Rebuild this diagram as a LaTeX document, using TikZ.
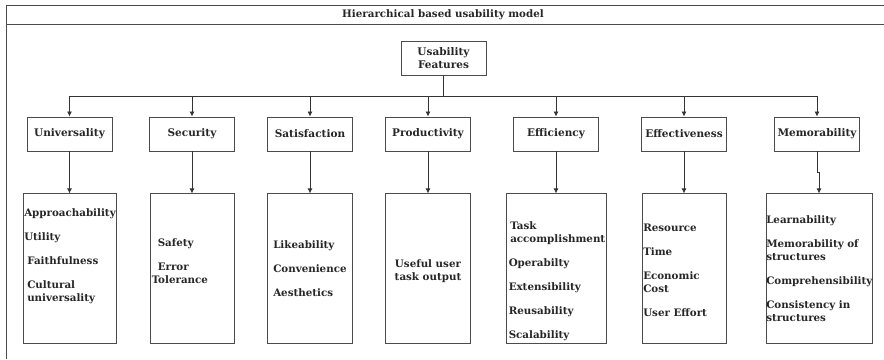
\documentclass[tikz,border=0pt]{standalone}
\usepackage{fontspec}
\setmainfont{DejaVu Serif}
\usepackage{xcolor}
\usetikzlibrary{positioning,arrows.meta}

\begin{document}
\begin{tikzpicture}[
    x=1pt, y=-1pt,
    node distance=42pt,
    every node/.style={font=\bfseries\fontsize{10.5}{12.5}\selectfont, text=black!85},
    frame/.style={draw=black!70, line width=0.9pt},
    nd/.style={rectangle, draw=black!70, line width=0.9pt,
               minimum width=85pt, minimum height=34pt,
               inner sep=1pt, align=center},
    listbox/.style={rectangle, draw=black!70, line width=0.9pt,
                    minimum height=150pt, inner sep=0pt},
    items/.style={align=left, inner sep=0pt, anchor=north west,
                  font=\bfseries\fontsize{10.3}{13}\selectfont},
    arr/.style={-{Latex[length=5pt,width=5pt]}, draw=black!80, line width=0.8pt},
    ln/.style={draw=black!80, line width=0.8pt}
]
\useasboundingbox (0,0) rectangle (884,359);

% frame and heading
\draw[frame] (6,359) -- (6,5) -- (884,5);
\draw[frame] (6,24) -- (884,24);
\node[font=\bfseries\fontsize{10.3}{13}\selectfont] (title) at (443,14.5) {Hierarchical based usability model};

% root
\node[nd] (root) at (443.5,58) {Usability\\Features};
\coordinate (bus) at (443.5,96);

% features
\node[nd] (univ)   at (69.5,134)  {Universality};
\node[nd] (secu)   at (192,134)   {Security};
\node[nd] (satis)  at (310,134)   {Satisfaction};
\node[nd] (prod)   at (428,134)   {Productivity};
\node[nd] (effic)  at (556,134)   {Efficiency};
\node[nd] (effect) at (684,134)   {Effectiveness};
\node[nd] (memo)   at (817,134)   {Memorability};

% sub-feature boxes
\node[listbox, minimum width=93pt, below=of univ]   (univlist)   {};
\node[listbox, minimum width=84pt, below=of secu]   (seculist)   {};
\node[listbox, minimum width=85pt, below=of satis]  (satislist)  {};
\node[listbox, minimum width=85pt, below=of prod]   (prodlist)   {};
\node[listbox, minimum width=100pt, below=of effic] (efficlist)  {};
\node[listbox, minimum width=84pt, below=of effect] (effectlist) {};
\node[listbox, minimum width=106pt, below=of memo, xshift=2pt] (memolist) {};

% sub-feature texts
\node[items] (univtxt) at ([xshift=1.5pt,yshift=-15pt]univlist.north west)
    {Approachability\\[11pt]Utility\\[11pt]\hspace{3pt}Faithfulness\\[11pt]\hspace{3pt}Cultural\\\hspace{3pt}universality};
\node[items] (secutxt) at ([xshift=2pt,yshift=-45pt]seculist.north west)
    {\hspace{6pt}Safety\\[11pt]\hspace{6pt}Error\\Tolerance};
\node[items] (satistxt) at ([xshift=6pt,yshift=-47pt]satislist.north west)
    {Likeability\\[11pt]Convenience\\[11pt]Aesthetics};
\node[items, align=center, anchor=north] (prodtxt) at ([yshift=-66pt]prodlist.north)
    {Useful user\\task output};
\node[items] (effictxt) at ([xshift=3pt,yshift=-28pt]efficlist.north west)
    {\hspace{1.5pt}Task\\\hspace{1.5pt}accomplishment\\[11pt]Operabilty\\[11pt]Extensibility\\[11pt]Reusability\\[11pt]Scalability};
\node[items] (effecttxt) at ([xshift=1.5pt,yshift=-30.5pt]effectlist.north west)
    {Resource\\[11pt]Time\\[11pt]Economic\\Cost\\[11pt]User Effort};
\node[items] (memotxt) at ([xshift=0.5pt,yshift=-22pt]memolist.north west)
    {Learnability\\[11pt]Memorability of\\structures\\[11pt]Comprehensibility\\[11pt]Consistency in\\structures};

% connectors
\draw[ln]  (root) -- (bus);
\draw[arr] (bus) -| (univ);
\draw[arr] (bus) -| (secu);
\draw[arr] (bus) -| (satis);
\draw[arr] (bus) -| (prod);
\draw[arr] (bus) -| (effic);
\draw[arr] (bus) -| (effect);
\draw[arr] (bus) -| (memo);

\draw[arr] (univ)   -- (univlist);
\draw[arr] (secu)   -- (seculist);
\draw[arr] (satis)  -- (satislist);
\draw[arr] (prod)   -- (prodlist);
\draw[arr] (effic)  -- (efficlist);
\draw[arr] (effect) -- (effectlist);
\draw[arr] (memo)   -- ++(0,38) -| (memolist);
\end{tikzpicture}
\end{document}
